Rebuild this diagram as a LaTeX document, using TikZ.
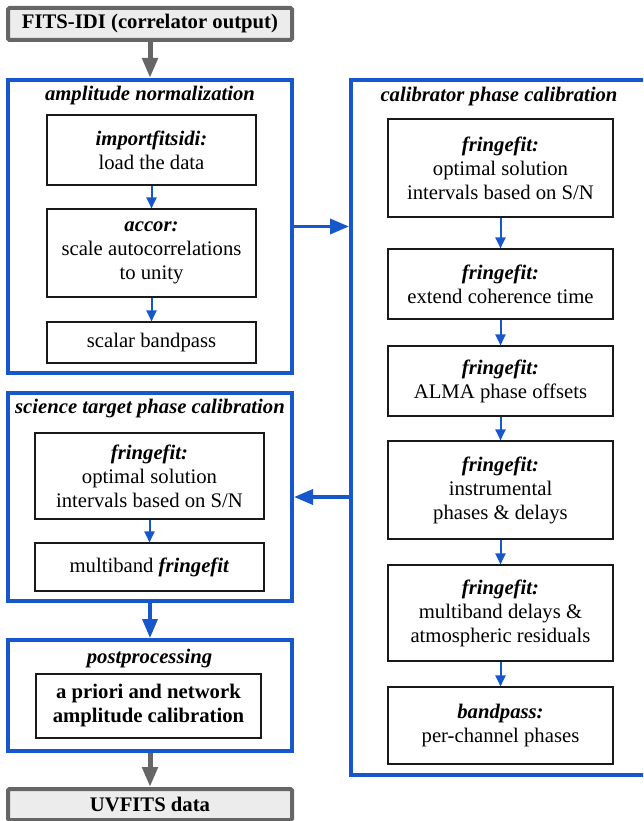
\documentclass[tikz,border=0pt]{standalone}
\usepackage{fontspec}
\setmainfont{Liberation Serif}
\usetikzlibrary{arrows.meta,calc}
\definecolor{flowblue}{RGB}{22,88,204}
\definecolor{edgegray}{RGB}{102,102,102}
\definecolor{fillgray}{RGB}{236,236,236}
\begin{document}
\begin{tikzpicture}[x=1pt,y=-1pt,
  every node/.style={font=\fontsize{20.7}{24}\selectfont, align=center, inner sep=0pt, rectangle},
  group/.style={draw=flowblue, line width=4pt},
  task/.style={draw=black!90, line width=1.1pt, fill=white},
  iobox/.style={draw=edgegray, fill=fillgray, line width=4pt, rounded corners=1.5pt,
    font=\fontsize{20.7}{24}\selectfont\bfseries},
  grouptitle/.style={anchor=base, font=\fontsize{20.7}{24}\selectfont\bfseries\itshape},
  flowarrow/.style={draw=flowblue, line width=2pt, -{Triangle[length=11pt,width=10pt]}},
  bigflow/.style={draw=flowblue, line width=3.5pt, -{Triangle[length=19pt,width=15pt]}},
  grayflow/.style={draw=edgegray, line width=5pt, -{Triangle[length=20pt,width=15pt]}}
]
\path[use as bounding box] (0,0) rectangle (643,821);
\clip (0,0) rectangle (643,821);

% input / output
\node[iobox, minimum width=284pt, minimum height=32pt] (fits) at (150,24) {FITS-IDI (correlator output)};
\node[iobox, minimum width=284pt, minimum height=31pt] (uvfits) at (150,804.5) {UVFITS data};

% groups
\node[group, minimum width=284pt, minimum height=293pt] (amp) at (150,226.5) {};
\node[group, minimum width=300pt, minimum height=695pt] (calib) at (501,427.5) {};
\node[group, minimum width=284pt, minimum height=208pt] (sci) at (150,497) {};
\node[group, minimum width=284pt, minimum height=111pt] (post) at (150,695.5) {};

% titles
\node[grouptitle] (ampt) at (150,101) {amplitude normalization};
\node[grouptitle] (calibt) at (499,102) {calibrator phase calibration};
\node[grouptitle] (scit) at (150,413) {science target phase calibration};
\node[grouptitle] (postt) at (149.5,663) {postprocessing};

% amplitude normalization tasks
\node[task, minimum width=209pt, minimum height=70pt] (imp) at (151.5,150) {\textbf{\textit{importfitsidi:}}\\load the data};
\node[task, minimum width=209pt, minimum height=88pt] (accor) at (151.5,253) {\textbf{\textit{accor:}}\\scale autocorrelations\\to unity};
\node[task, minimum width=209pt, minimum height=41pt] (scalar) at (151.5,342.5) {scalar bandpass};

% calibrator tasks
\node[task, minimum width=225pt, minimum height=98pt] (ff1) at (500.5,168) {\textbf{\textit{fringefit:}}\\optimal solution\\intervals based on S/N};
\node[task, minimum width=225pt, minimum height=70pt] (ff2) at (500.5,284) {\textbf{\textit{fringefit:}}\\extend coherence time};
\node[task, minimum width=225pt, minimum height=70pt] (ff3) at (500.5,381) {\textbf{\textit{fringefit:}}\\ALMA phase offsets};
\node[task, minimum width=225pt, minimum height=98pt] (ff4) at (500.5,490) {\textbf{\textit{fringefit:}}\\instrumental\\phases \& delays};
\node[task, minimum width=225pt, minimum height=96pt] (ff5) at (500.5,613) {\textbf{\textit{fringefit:}}\\multiband delays \&\\atmospheric residuals};
\node[task, minimum width=225pt, minimum height=77pt] (bp) at (500.5,725.5) {\textbf{\textit{bandpass:}}\\per-channel phases};

% science target tasks
\node[task, minimum width=229pt, minimum height=86pt] (sff) at (149.5,476) {\textbf{\textit{fringefit:}}\\optimal solution\\intervals based on S/N};
\node[task, minimum width=229pt, minimum height=48pt] (smb) at (149.5,567) {multiband \textbf{\textit{fringefit}}};

% postprocessing task
\node[task, minimum width=225pt, minimum height=64pt, font=\fontsize{20.7}{24}\selectfont\bfseries] (amcal) at (148.5,706) {a priori and network\\amplitude calibration};

% connectors
\draw[grayflow] (fits.south) -- (amp.north);
\draw[grayflow] (post.south) -- (uvfits.north);
\draw[bigflow] (amp.east) -- (amp.east -| calib.west);
\draw[bigflow] (sci.east -| calib.west) -- (sci.east);
\draw[bigflow] (sci.south) -- (post.north);

\draw[flowarrow] (imp.south) -- (accor.north);
\draw[flowarrow] (accor.south) -- (scalar.north);
\draw[flowarrow] (ff1.south) -- (ff2.north);
\draw[flowarrow] (ff2.south) -- (ff3.north);
\draw[flowarrow] (ff3.south) -- (ff4.north);
\draw[flowarrow] (ff4.south) -- (ff5.north);
\draw[flowarrow] (ff5.south) -- (bp.north);
\draw[flowarrow] (sff.south) -- (smb.north);
\end{tikzpicture}
\end{document}
